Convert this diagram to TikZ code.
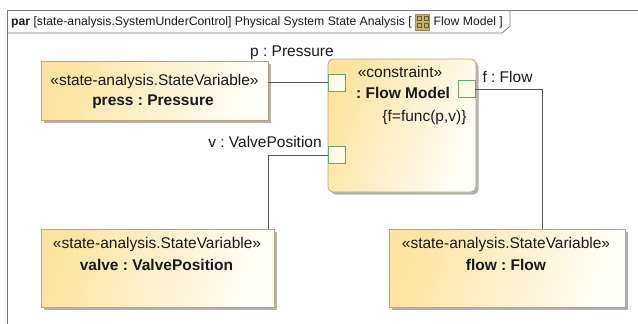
\documentclass[tikz,border=0pt]{standalone}
\usepackage{fontspec}
\setmainfont{Liberation Sans}
\usepackage{xcolor}
\usetikzlibrary{positioning,shadows}
\frenchspacing

\definecolor{boxyellow}{HTML}{FCE4A0}
\definecolor{boxwhite}{HTML}{FFFEF9}
\definecolor{boxedge}{HTML}{B5A77A}
\definecolor{portedge}{HTML}{62A873}
\definecolor{portfill}{HTML}{FFFCE4}
\definecolor{wire}{HTML}{555555}
\definecolor{framegray}{HTML}{7A7A7A}
\definecolor{iconfill}{HTML}{C8B270}
\definecolor{icondark}{HTML}{6E5A2A}

\begin{document}
\begin{tikzpicture}[x=1pt, y=-1pt,
  svbox/.style={draw=boxedge, line width=0.8pt, inner sep=0pt,
    left color=boxyellow, right color=boxwhite, shading angle=70,
    drop shadow={shadow xshift=2.5pt, shadow yshift=-2.5pt, fill=black, opacity=0.3}},
  cbox/.style={svbox, rounded corners=5pt},
  port/.style={draw=portedge, fill=portfill, line width=0.7pt, inner sep=0pt, minimum size=17pt},
  txt/.style={inner sep=0pt, font=\fontsize{15.5}{18}\selectfont, text=black!90},
  ttl/.style={inner sep=0pt, font=\fontsize{12.2}{14}\selectfont, text=black!90},
  wire/.style={draw=wire, line width=0.8pt},
  frame/.style={draw=framegray, line width=0.8pt}]
  \useasboundingbox (0,0) rectangle (638,324);

  % Frame and title tab
  \node[ttl, anchor=west] (ttl) at (11,22)
      {\textbf{par} [state-analysis.SystemUnderControl] Physical System State Analysis [};
  \node[fill=iconfill, draw=icondark!70, line width=0.4pt, minimum width=14pt, minimum height=16pt,
        inner sep=0pt, right=3pt of ttl] (icon) {};
  \foreach \dx/\dy in {-3.5/-3.5, 3.5/-3.5, -3.5/3.5, 3.5/3.5}
    \draw[icondark, line width=0.6pt] ([shift={(\dx-2,\dy-2)}]icon.center) rectangle ++(4,4);
  \node[ttl, right=4pt of icon] (ttl2) {Flow Model ]};
  \path (ttl2.east) ++(7,0) coordinate (tabx);
  \draw[frame] (7.5,324) -- (7.5,10) -- (638,10);
  \draw[frame] (7.5,33) -- ([xshift=-8pt]tabx |- 0,33) -- (tabx |- 0,26) -- (tabx |- 0,10);

  % State variables
  \node[svbox, minimum width=227pt, minimum height=59pt] (press) at (154.5,90.5) {};
  \node[txt] (presst) at (154.5,81.5) {«state-analysis.StateVariable»};
  \node[txt] (pressn) at (153,101.5) {\textbf{press : Pressure}};

  \node[svbox, minimum width=233pt, minimum height=78pt] (valve) at (157.5,268) {};
  \node[txt] (valvet) at (157,244) {«state-analysis.StateVariable»};
  \node[txt] (valven) at (156.5,265) {\textbf{valve : ValvePosition}};

  \node[svbox, minimum width=236pt, minimum height=78pt] (flow) at (507,268) {};
  \node[txt] (flowt) at (506,244) {«state-analysis.StateVariable»};
  \node[txt] (flown) at (506,265) {\textbf{flow : Flow}};

  % Constraint block
  \node[cbox, minimum width=148pt, minimum height=133pt] (model) at (402,125.5) {};
  \node[txt] (modelt) at (400,72) {«constraint»};
  \node[txt] (modeln) at (403,93) {\textbf{: Flow Model}};
  \node[txt] (modelf) at (424.5,117) {\{f=func(p,v)\}};

  % Ports
  \node[port] (pport) at (336.5,82.5) {};
  \node[port] (vport) at (336.5,155) {};
  \node[port] (fport) at (466.5,89) {};

  % Port labels
  \node[txt] (plbl) at (292,53) {p : Pressure};
  \node[txt] (vlbl) at (265,142) {v : ValvePosition};
  \node[txt] (flbl) at (507.5,77) {f : Flow};

  % Connectors
  \draw[wire] (pport.west) -- (pport.west -| press.east);
  \draw[wire] (vport.west) -| ([xshift=-6pt]valve.north east);
  \draw[wire] (fport.east) -| ([xshift=35pt]flow.north);
\end{tikzpicture}
\end{document}
